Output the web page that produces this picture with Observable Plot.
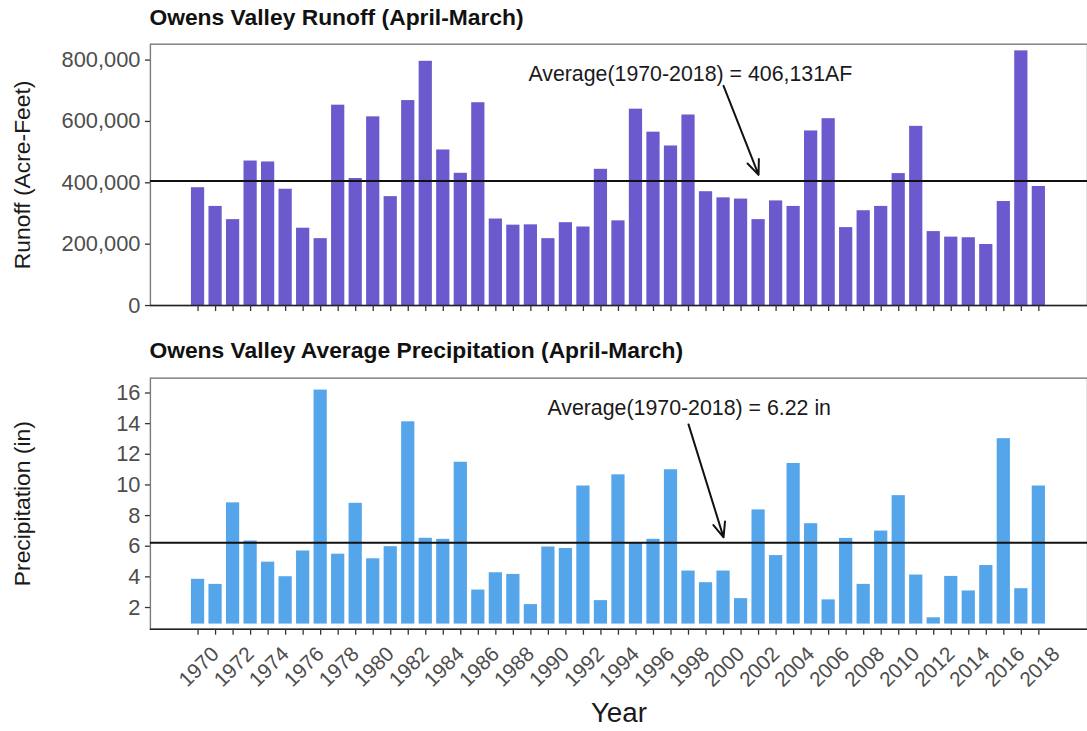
<!DOCTYPE html>
<html><head><meta charset="utf-8">
<script src="https://cdn.jsdelivr.net/npm/d3@7"></script>
<script src="https://cdn.jsdelivr.net/npm/@observablehq/plot@0.6"></script>
<style>
html,body{margin:0;padding:0;background:#fff;overflow:hidden;}
#chart{position:relative;width:1087px;height:731px;overflow:hidden;}
#chart svg{display:block;}
</style></head><body><div id="chart"></div>
<script>
// ---- data ----
const years = d3.range(1970, 2019);
const runoff = [384000, 323000, 280000, 471000, 468000, 379000, 252000, 218000, 653000, 414000,
  615000, 355000, 668000, 796000, 507000, 431000, 661000, 282000, 262000, 263000,
  218000, 270000, 256000, 444000, 276000, 640000, 565000, 520000, 621000, 371000,
  351000, 347000, 280000, 341000, 323000, 569000, 609000, 254000, 309000, 323000,
  430000, 584000, 241000, 223000, 221000, 199000, 339000, 830000, 388000];
const precip = [3.84, 3.51, 8.83, 6.34, 4.96, 4.01, 5.69, 16.19, 5.48, 8.80,
  5.18, 5.97, 14.12, 6.52, 6.45, 11.48, 3.14, 4.27, 4.16, 2.19,
  5.95, 5.85, 9.93, 2.45, 10.66, 6.21, 6.45, 10.99, 4.38, 3.62,
  4.38, 2.58, 8.37, 5.39, 11.40, 7.47, 2.50, 6.51, 3.51, 6.99,
  9.30, 4.12, 1.33, 4.03, 3.08, 4.74, 13.02, 3.23, 9.93];
const labelYears = years.filter(y => y % 2 === 0);
const runoffTicks = [0, 200000, 400000, 600000, 800000];
const precipTicks = [2, 4, 6, 8, 10, 12, 14, 16];
const runoffAverage = 406131;
const precipAverage = 6.22;
const runoffTitle = "Owens Valley Runoff (April-March)";
const precipTitle = "Owens Valley Average Precipitation (April-March)";
const runoffYLabel = "Runoff (Acre-Feet)";
const precipYLabel = "Precipitation (in)";
const xLabel = "Year";
const runoffNote = [{text: "Average(1970-2018) = 406,131AF", x: 1989, y: 754700}];
const runoffArrow = [{x1: 2000, y1: 716000, x2: 2002, y2: 425700}];
const precipNote = [{text: "Average(1970-2018) = 6.22 in", x: 1990, y: 15.03}];
const precipArrow = [{x1: 1998, y1: 13.95, x2: 2000, y2: 6.58}];

const runoffData = years.map((year, i) => ({year, value: runoff[i]}));
const precipData = years.map((year, i) => ({year, value: precip[i]}));

// ---- layout ----
const W = 1095, ML = 151;
const font = "'Liberation Sans', Arial, Helvetica, sans-serif";
const xScale = {type: "band", domain: years, range: [190.175, 1054.825], paddingInner: 0.245, paddingOuter: 0.1225, align: 0.5, axis: null};
const runoffDomain = [0, 851800];
const precipDomain = [0.58, 16.97];
const precipBase = 0.92;

const topChart = Plot.plot({
  width: W, height: 330, marginTop: 44, marginBottom: 22.7, marginLeft: ML, marginRight: 0,
  style: {fontFamily: font, background: "white", overflow: "visible"},
  x: xScale,
  y: {domain: runoffDomain, axis: null},
  marks: [
    Plot.frame({stroke: "#7a7a7a", strokeWidth: 1.4}),
    Plot.barY(runoffData, {x: "year", y: "value", fill: "#6a5acd"}),
    Plot.ruleY([runoffAverage], {stroke: "#111", strokeWidth: 2}),
    Plot.ruleY([runoffDomain[0]], {stroke: "#222", strokeWidth: 1.6}),
    Plot.axisY({ticks: runoffTicks, tickFormat: d3.format(","), tickSize: 5, tickPadding: 5, fontSize: 22, fill: "#4d4d4d", stroke: "#333", strokeWidth: 1.3, label: null}),
    Plot.axisX({ticks: years, tickSize: 6, tickFormat: () => "", stroke: "#333", strokeWidth: 1.3, label: null}),
    Plot.text([runoffTitle], {text: d => d, frameAnchor: "top-left", dx: -1, dy: -27, textAnchor: "start", lineAnchor: "middle", fontWeight: "bold", fontSize: 23, fill: "#111"}),
    Plot.text([runoffYLabel], {text: d => d, frameAnchor: "left", dx: -129, rotate: -90, textAnchor: "middle", lineAnchor: "middle", fontSize: 23, fill: "#1a1a1a"}),
    Plot.text(runoffNote, {x: "x", y: "y", text: "text", textAnchor: "start", lineAnchor: "middle", dx: -2.5, fontSize: 21.5, fill: "#1a1a1a"}),
    Plot.arrow(runoffArrow, {x1: "x1", y1: "y1", x2: "x2", y2: "y2", stroke: "#111", strokeWidth: 2, headLength: 12, headAngle: 45})
  ]
});

const bottomChart = Plot.plot({
  width: W, height: 401, marginTop: 50, marginBottom: 98, marginLeft: ML, marginRight: 0,
  style: {fontFamily: font, background: "white", overflow: "visible"},
  x: xScale,
  y: {domain: precipDomain, axis: null},
  marks: [
    Plot.frame({stroke: "#7a7a7a", strokeWidth: 1.4}),
    Plot.barY(precipData, {x: "year", y1: precipBase, y2: "value", fill: "#55a5eb"}),
    Plot.ruleY([precipAverage], {stroke: "#111", strokeWidth: 2}),
    Plot.ruleY([precipDomain[0]], {stroke: "#222", strokeWidth: 1.6}),
    Plot.axisY({ticks: precipTicks, tickSize: 5, tickPadding: 5, fontSize: 22, fill: "#4d4d4d", stroke: "#333", strokeWidth: 1.3, label: null}),
    Plot.axisX({ticks: years, tickSize: 6, tickFormat: () => "", stroke: "#333", strokeWidth: 1.3, label: null}),
    Plot.text(labelYears, {x: d => d, text: d => String(d), frameAnchor: "bottom", dx: 1, dy: 38, rotate: -45, textAnchor: "middle", lineAnchor: "middle", fontSize: 21, fill: "#4d4d4d"}),
    Plot.text([xLabel], {text: d => d, frameAnchor: "bottom", dy: 84, textAnchor: "middle", lineAnchor: "middle", fontSize: 28, fill: "#1a1a1a"}),
    Plot.text([precipTitle], {text: d => d, frameAnchor: "top-left", dx: -1, dy: -28, textAnchor: "start", lineAnchor: "middle", fontWeight: "bold", fontSize: 23, fill: "#111"}),
    Plot.text([precipYLabel], {text: d => d, frameAnchor: "left", dx: -128.5, rotate: -90, textAnchor: "middle", lineAnchor: "middle", fontSize: 23, fill: "#1a1a1a"}),
    Plot.text(precipNote, {x: "x", y: "y", text: "text", textAnchor: "start", lineAnchor: "middle", dx: -1, fontSize: 21.5, fill: "#1a1a1a"}),
    Plot.arrow(precipArrow, {x1: "x1", y1: "y1", x2: "x2", y2: "y2", stroke: "#111", strokeWidth: 2, headLength: 12, headAngle: 45})
  ]
});

const chart = document.getElementById("chart");
chart.appendChild(topChart);
chart.appendChild(bottomChart);
</script>
</body></html>
